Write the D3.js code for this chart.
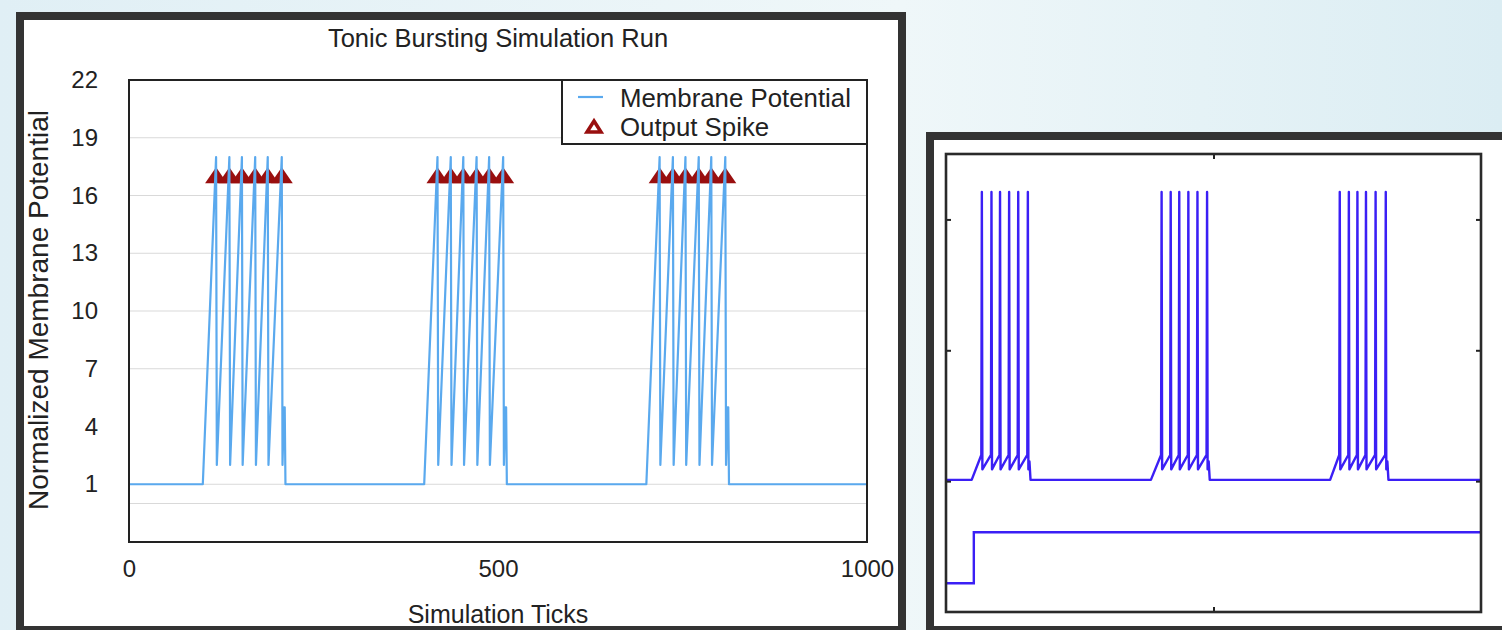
<!DOCTYPE html>
<html>
<head>
<meta charset="utf-8">
<script src="https://cdn.jsdelivr.net/npm/d3@7"></script>
<style>
  body { margin: 0; background: #e4f1f6; }
  svg { display: block; }
  text { font-family: "Liberation Sans", Arial, Helvetica, sans-serif; fill: #222; }
</style>
</head>
<body>
<script>
// 左图：Tonic Bursting 仿真膜电位 (tick, value)
const membrane_points = [
    [0, 1], [100, 1],
    [118, 18], [119, 2], [136, 18], [137, 2], [153, 18], [154, 2],
    [171, 18], [172, 2], [188, 18], [189, 2], [207, 18], [208, 2],
    [210, 5], [211, 5], [212, 1],
    [400, 1],
    [418, 18], [419, 2], [436, 18], [437, 2], [453, 18], [454, 2],
    [471, 18], [472, 2], [488, 18], [489, 2], [507, 18], [508, 2],
    [510, 5], [511, 5], [512, 1],
    [701, 1],
    [719, 18], [720, 2], [737, 18], [738, 2], [754, 18], [755, 2],
    [772, 18], [773, 2], [789, 18], [790, 2], [808, 18], [809, 2],
    [811, 5], [812, 5], [813, 1],
    [1000, 1]
];
// 输出脉冲时刻
const spike_ticks = [118, 136, 153, 171, 188, 207,
    418, 436, 453, 471, 488, 507,
    719, 737, 754, 772, 789, 808];
const spike_level = 17;
const y_tick_values = [22, 19, 16, 13, 10, 7, 4, 1];
const y_grid_values = [19, 16, 13, 10, 7, 1, 0];
const x_tick_values = [0, 500, 1000];
const legend_items = ['Membrane Potential', 'Output Spike'];

// 右图：参考波形 (time, value)
const ref_voltage = [
    [0, 1.01], [48, 1.01],
    [66, 1.2], [67, 3.21], [68, 1.09], [84, 1.2], [85, 3.21], [86, 1.09],
    [100, 1.2], [101, 3.21], [102, 1.09], [117, 1.2], [118, 3.21], [119, 1.09],
    [134, 1.2], [135, 3.21], [136, 1.09], [152, 1.2], [153, 3.21], [154, 1.09],
    [156, 1.15], [158, 1.01],
    [383, 1.01],
    [402, 1.2], [403, 3.21], [404, 1.09], [419, 1.2], [420, 3.21], [421, 1.09],
    [435, 1.2], [436, 3.21], [437, 1.09], [452, 1.2], [453, 3.21], [454, 1.09],
    [469, 1.2], [470, 3.21], [471, 1.09], [487, 1.2], [488, 3.21], [489, 1.09],
    [491, 1.15], [493, 1.01],
    [718, 1.01],
    [735, 1.2], [736, 3.21], [737, 1.09], [752, 1.2], [753, 3.21], [754, 1.09],
    [768, 1.2], [769, 3.21], [770, 1.09], [784, 1.2], [785, 3.21], [786, 1.09],
    [802, 1.2], [803, 3.21], [804, 1.09], [821, 1.2], [822, 3.21], [823, 1.09],
    [825, 1.15], [827, 1.01],
    [1000, 1.01]
];
const ref_input = [[0, 0.22], [52, 0.22], [52, 0.61], [1000, 0.61]];
const ref_x_ticks = [500];
const ref_y_ticks = [1, 2, 3];

const width = 1502;
const height = 630;
const line_color = '#5aa9ee';
const spike_color = '#990f0f';
const ref_color = '#3b1ff5';

const svg = d3.select('body').append('svg')
    .attr('width', width)
    .attr('height', height);

// 背景渐变
const defs = svg.append('defs');
const grad = defs.append('linearGradient').attr('id', 'bg');
grad.append('stop').attr('offset', '0%').attr('stop-color', '#e0eff5');
grad.append('stop').attr('offset', '60%').attr('stop-color', '#eff7f9');
grad.append('stop').attr('offset', '100%').attr('stop-color', '#dbedf3');
svg.append('rect').attr('width', width).attr('height', height).attr('fill', 'url(#bg)');

// 两个深色边框
svg.append('rect')
    .attr('x', 20).attr('y', 16).attr('width', 882).attr('height', 614)
    .attr('fill', 'white').attr('stroke', '#333').attr('stroke-width', 8);
svg.append('rect')
    .attr('x', 930).attr('y', 136).attr('width', 600).attr('height', 494)
    .attr('fill', 'white').attr('stroke', '#333').attr('stroke-width', 8);

// ---------- 左图 ----------
const x = d3.scaleLinear([0, 1000], [129, 867]);
const y = d3.scaleLinear([-2, 22], [542, 80]);

svg.append('text')
    .attr('x', 498).attr('y', 38).attr('dy', '0.35em')
    .attr('text-anchor', 'middle').attr('font-size', 25.5)
    .text('Tonic Bursting Simulation Run');

svg.append('g')
    .selectAll('line')
    .data(y_grid_values).enter()
    .append('line')
    .attr('x1', x(0)).attr('x2', x(1000))
    .attr('y1', d => y(d)).attr('y2', d => y(d))
    .attr('stroke', '#d9d9d9').attr('stroke-width', 1.2);

const y_axis = svg.append('g')
    .attr('transform', `translate(${x(0)},0)`)
    .call(d3.axisLeft(y).tickValues(y_tick_values).tickSize(0).tickPadding(31));
y_axis.select('.domain').remove();
y_axis.selectAll('text').attr('font-size', 24).attr('font-family', null).attr('fill', '#222');

const x_axis = svg.append('g')
    .attr('transform', `translate(0,${y(-2)})`)
    .call(d3.axisBottom(x).tickValues(x_tick_values).tickFormat(d3.format('d')).tickSize(0).tickPadding(18));
x_axis.select('.domain').remove();
x_axis.selectAll('text').attr('font-size', 24).attr('font-family', null).attr('fill', '#222');

svg.append('text')
    .attr('x', 498).attr('y', 614).attr('dy', '0.35em')
    .attr('text-anchor', 'middle').attr('font-size', 25)
    .text('Simulation Ticks');

svg.append('text')
    .attr('transform', 'translate(38,310) rotate(-90)')
    .attr('dy', '0.35em')
    .attr('text-anchor', 'middle').attr('font-size', 28)
    .text('Normalized Membrane Potential');

// 脉冲三角形
const tri = 'M0,-9L11,7L-11,7Z';
svg.append('g')
    .selectAll('path')
    .data(spike_ticks).enter()
    .append('path')
    .attr('d', tri)
    .attr('transform', d => `translate(${x(d)},${y(spike_level)})`)
    .attr('fill', spike_color);

// 膜电位曲线
svg.append('path')
    .datum(membrane_points)
    .attr('fill', 'none')
    .attr('stroke', line_color)
    .attr('stroke-width', 2.2)
    .attr('stroke-linejoin', 'round')
    .attr('d', d3.line().x(d => x(d[0])).y(d => y(d[1])));

// 图框
svg.append('rect')
    .attr('x', x(0)).attr('y', y(22))
    .attr('width', x(1000) - x(0)).attr('height', y(-2) - y(22))
    .attr('fill', 'none').attr('stroke', '#222').attr('stroke-width', 2);

// 图例
const legend = svg.append('g').attr('transform', 'translate(562,80)');
legend.append('rect')
    .attr('width', 305).attr('height', 64)
    .attr('fill', 'white').attr('stroke', '#222').attr('stroke-width', 2);
legend.append('line')
    .attr('x1', 16).attr('x2', 41).attr('y1', 17).attr('y2', 17)
    .attr('stroke', line_color).attr('stroke-width', 2.2);
legend.append('path')
    .attr('d', 'M0,-6L7,5L-7,5Z')
    .attr('transform', 'translate(32,47)')
    .attr('fill', 'white').attr('stroke', spike_color).attr('stroke-width', 3.5)
    .attr('stroke-linejoin', 'miter');
legend.selectAll('text.item')
    .data(legend_items).enter()
    .append('text')
    .attr('class', 'item')
    .attr('x', 58).attr('y', (d, i) => 18 + i * 29).attr('dy', '0.35em')
    .attr('font-size', 25.8)
    .text(d => d);

// ---------- 右图 ----------
const xr = d3.scaleLinear([0, 1000], [946, 1481]);
const yr = d3.scaleLinear([0, 3.5], [612, 154]);

const line_r = d3.line().x(d => xr(d[0])).y(d => yr(d[1]));
svg.append('path')
    .datum(ref_input)
    .attr('fill', 'none').attr('stroke', ref_color).attr('stroke-width', 2.4)
    .attr('d', line_r);
svg.append('path')
    .datum(ref_voltage)
    .attr('fill', 'none').attr('stroke', ref_color).attr('stroke-width', 2.4)
    .attr('stroke-linejoin', 'round')
    .attr('d', line_r);

const axes_r = [
    [d3.axisTop(xr).tickValues(ref_x_ticks), `translate(0,${yr(3.5)})`],
    [d3.axisBottom(xr).tickValues(ref_x_ticks), `translate(0,${yr(0)})`],
    [d3.axisLeft(yr).tickValues(ref_y_ticks), `translate(${xr(0)},0)`],
    [d3.axisRight(yr).tickValues(ref_y_ticks), `translate(${xr(1000)},0)`]
];
for (const [ax, tr] of axes_r) {
    const g = svg.append('g').attr('transform', tr)
        .call(ax.tickSizeInner(-5).tickSizeOuter(0).tickFormat(''));
    g.select('.domain').remove();
    g.selectAll('line').attr('stroke', '#222').attr('stroke-width', 2);
}
svg.append('rect')
    .attr('x', xr(0)).attr('y', yr(3.5))
    .attr('width', xr(1000) - xr(0)).attr('height', yr(0) - yr(3.5))
    .attr('fill', 'none').attr('stroke', '#2a2a2a').attr('stroke-width', 2.6);
</script>
</body>
</html>
